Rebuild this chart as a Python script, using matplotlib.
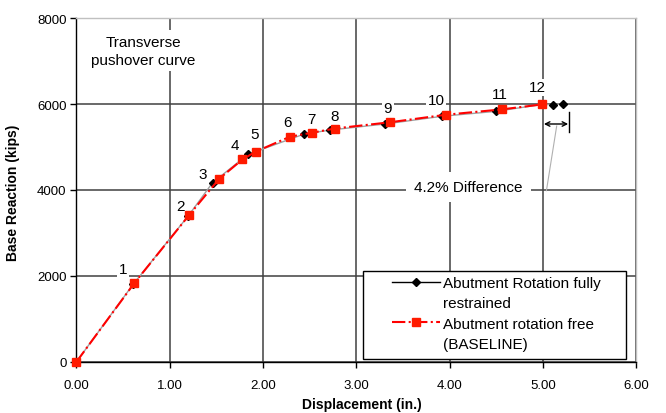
import matplotlib
matplotlib.use('Agg')
import matplotlib.pyplot as plt
from matplotlib.lines import Line2D
from matplotlib.patches import Rectangle

plt.rcParams['font.family'] = ['Liberation Sans', 'DejaVu Sans']

# ---- data ----
disp_free = [0.00, 0.62, 1.21, 1.53, 1.78, 1.92, 2.29, 2.52, 2.77, 3.36, 3.96, 4.56, 4.99]
react_free = [0, 1830, 3420, 4260, 4710, 4890, 5240, 5330, 5430, 5575, 5750, 5875, 5990]
disp_fixed = [0.00, 0.61, 1.20, 1.46, 1.84, 2.44, 2.72, 3.31, 3.92, 4.50, 4.99, 5.11, 5.21]
react_fixed = [0, 1810, 3400, 4170, 4830, 5300, 5395, 5535, 5715, 5830, 5990, 5985, 6005]
point_labels = ['1', '2', '3', '4', '5', '6', '7', '8', '9', '10', '11', '12']
x_ticks = [0, 1, 2, 3, 4, 5, 6]
y_ticks = [0, 2000, 4000, 6000, 8000]
legend_lines = ['Abutment Rotation fully', 'restrained',
                'Abutment rotation free', '(BASELINE)']

# label offsets (pixels) relative to the baseline points 1..12
label_off_px = [(-11, 14), (-9, 9), (-16, 5), (-8, 14), (-1, 18), (-3, 15),
                (0, 14), (0, 13), (-2, 14), (-10, 15), (-2, 15), (-5, 17)]

fig = plt.figure(figsize=(6.66, 4.14), dpi=100)
ax = fig.add_axes([0.1146, 0.1232, 0.8408, 0.8309])

ax.set_xlim(0, 6)
ax.set_ylim(0, 8000)
ax.set_xticks(x_ticks)
ax.set_xticklabels(['%.2f' % v for v in x_ticks])
ax.set_yticks(y_ticks)
ax.set_yticklabels([str(v) for v in y_ticks])
ax.tick_params(axis='both', direction='out', length=4, width=1, labelsize=9.5,
               colors='black')
ax.tick_params(axis='x', pad=8)
ax.tick_params(axis='y', pad=3)

ax.grid(True, color='#404040', lw=1.1)
ax.set_axisbelow(True)
for s in ['top', 'right']:
    ax.spines[s].set_color('#c0c0c0')
    ax.spines[s].set_linewidth(1)
for s in ['left', 'bottom']:
    ax.spines[s].set_color('black')
    ax.spines[s].set_linewidth(1)

# series
ax.plot(disp_fixed, react_fixed, color='#a0a0a0', lw=1.0, marker='D',
        markersize=4, markerfacecolor='black', markeredgecolor='black',
        zorder=3, clip_on=False)
ax.plot(disp_free, react_free, color='#ff0000', lw=1.5, ls='-.', marker='s',
        markersize=5.5, markerfacecolor='#ff1a00', markeredgecolor='#ff1a00',
        zorder=4, clip_on=False)

# point numbers
for lab, xv, yv, (dx, dy) in zip(point_labels, disp_free[1:], react_free[1:], label_off_px):
    ax.annotate(lab, xy=(xv, yv), xytext=(dx * 0.72, dy * 0.72),
                textcoords='offset points', ha='center', va='center',
                fontsize=11, zorder=2.5,
                bbox=dict(boxstyle='square,pad=0.1', fc='white', ec='none'))

# title text
ax.text(0.714, 7233, 'Transverse\npushover curve', ha='center', va='center',
        fontsize=11, linespacing=1.35, zorder=2.5,
        bbox=dict(boxstyle='square,pad=0.3', fc='white', ec='none'))

# difference annotation
ax.annotate('', xy=(5.01, 5535), xytext=(5.27, 5535),
            arrowprops=dict(arrowstyle='<->', color='black', lw=1,
                            shrinkA=0, shrinkB=0, mutation_scale=8), zorder=5)
ax.plot([5.28, 5.28], [5350, 5810], color='black', lw=1, zorder=5)
ax.plot([5.147, 5.037], [5488, 3984], color='#b0b0b0', lw=0.8, zorder=5)
ax.text(4.20, 4070, '4.2% Difference', ha='center', va='center', fontsize=11,
        zorder=2.5, bbox=dict(boxstyle='square,pad=0.55', fc='white', ec='none'))

# legend
frame = Rectangle((0.512, 0.008), 0.4696, 0.2565, transform=ax.transAxes,
                  fc='white', ec='black', lw=1, zorder=6, clip_on=False)
ax.add_patch(frame)
h_fixed = Line2D([], [], color='black', lw=1, marker='D', markersize=4,
                 markerfacecolor='black', markeredgecolor='black')
h_free = Line2D([], [], color='#ff0000', lw=1.5, ls='-.', marker='s',
                markersize=5.5, markerfacecolor='#ff1a00', markeredgecolor='#ff1a00')
h_none = Line2D([], [], ls='none')
leg = ax.legend([h_fixed, h_none, h_free, h_none], legend_lines,
                loc='upper left', bbox_to_anchor=(0.564, 0.250),
                frameon=False, borderpad=0, borderaxespad=0,
                handlelength=3.1, handletextpad=0.2, labelspacing=0.42,
                fontsize=11)
leg.set_zorder(7)

ax.set_xlabel('Displacement (in.)', fontsize=10, fontweight='bold')
ax.set_ylabel('Base Reaction (kips)', fontsize=10, fontweight='bold')
ax.xaxis.set_label_coords(0.51, -0.103)
ax.yaxis.set_label_coords(-0.1, 0.494)

fig.savefig('out.png', dpi=100)
